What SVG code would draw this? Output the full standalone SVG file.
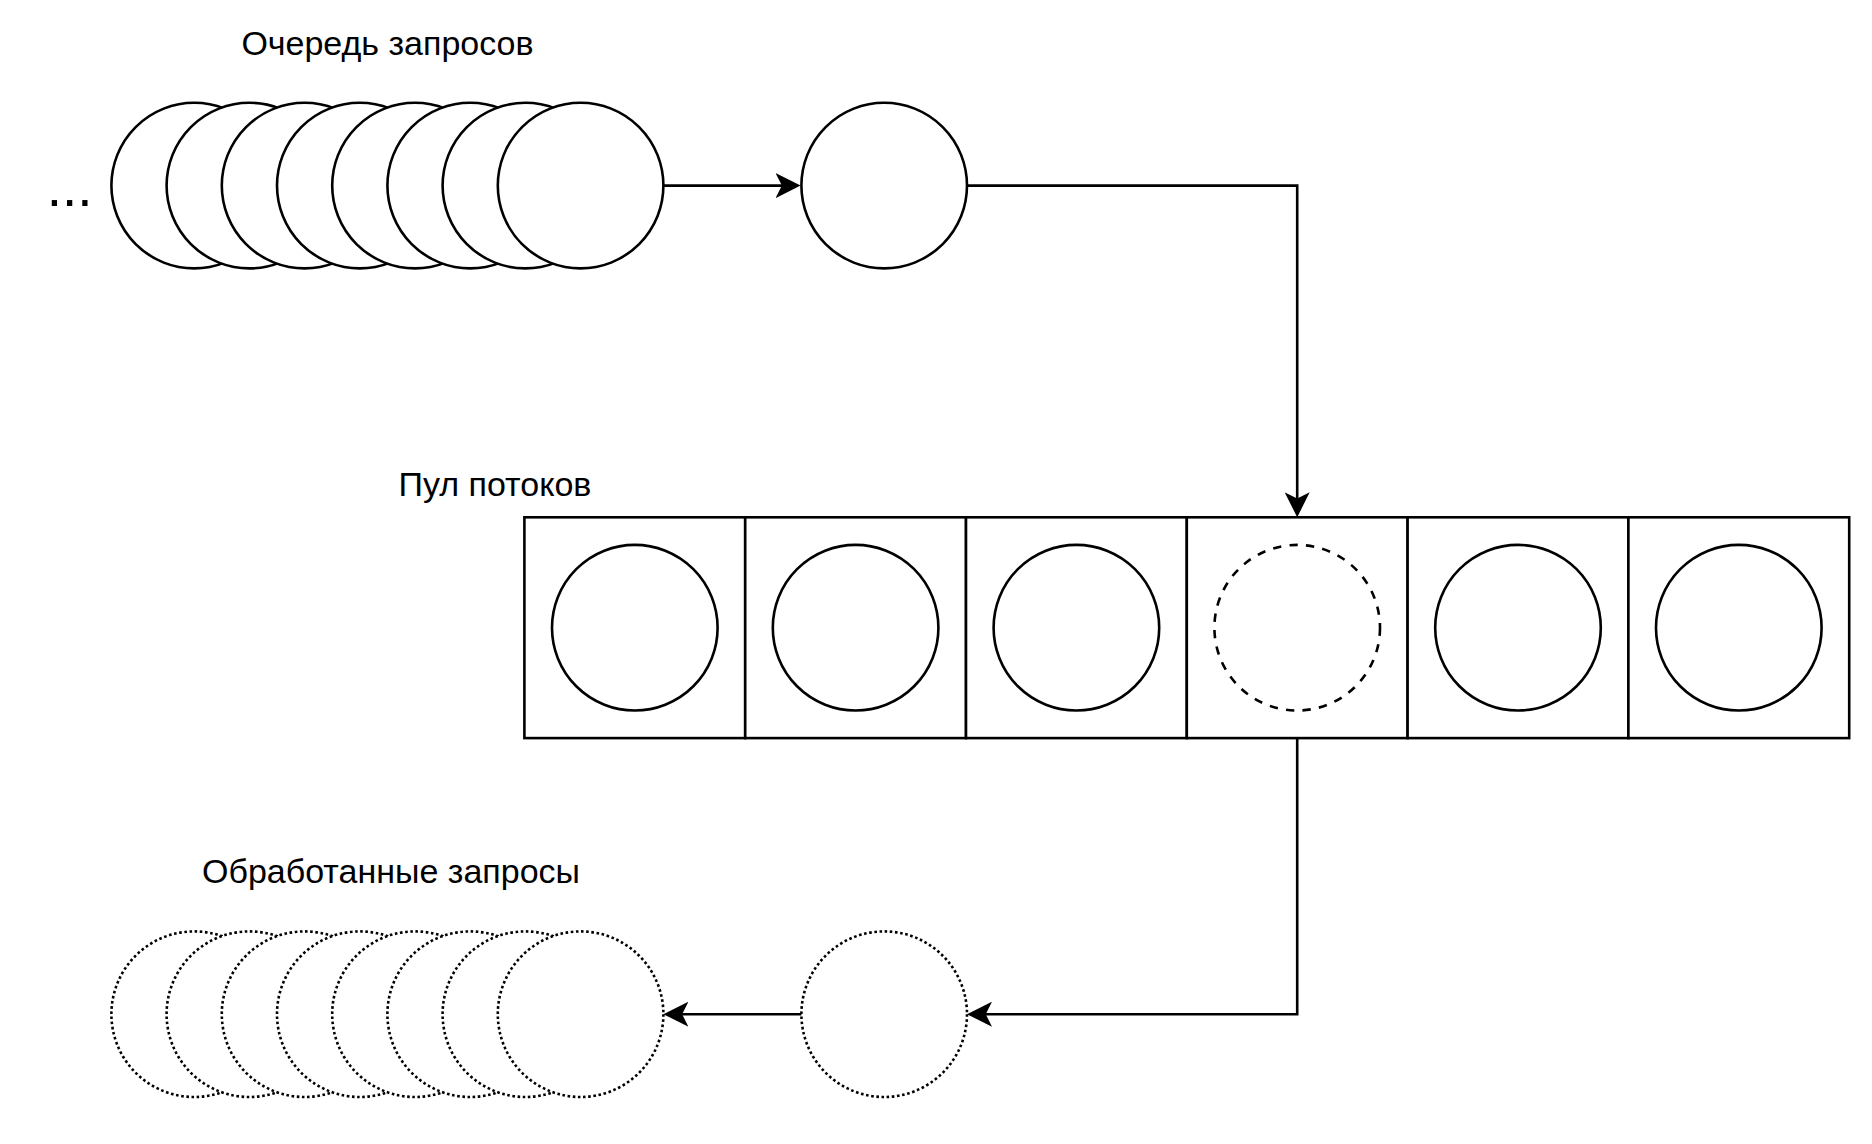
<svg xmlns="http://www.w3.org/2000/svg" width="1872" height="1144" viewBox="0 0 1872 1144">
<style>
.c{fill:#fff;stroke:#000;stroke-width:2.6}
.dash{stroke-dasharray:8.3 8.3}
.dot{stroke-dasharray:2.6 2.6}
.cell{fill:#fff;stroke:#000;stroke-width:2.6}
.lbl{font-family:"Liberation Sans",Arial,Helvetica,sans-serif;font-size:34px;fill:#000;text-anchor:middle}
.edge{fill:none;stroke:#000;stroke-width:2.6;marker-end:url(#arr)}
</style>
<defs>
<marker id="arr" markerUnits="userSpaceOnUse" markerWidth="25" markerHeight="25" viewBox="0 0 25 25" refX="19" refY="12.5" orient="auto">
<path d="M0,0 L25,12.5 L0,25 L6.25,12.5 Z" fill="#000"/>
</marker>
</defs>
<rect width="1872" height="1144" fill="#fff"/>

<g id="label-queue"><text class="lbl" x="387.5" y="55">Очередь запросов</text></g>
<g id="label-pool"><text class="lbl" x="495" y="496">Пул потоков</text></g>
<g id="label-done"><text class="lbl" x="391" y="883">Обработанные запросы</text></g>
<g id="ellipsis"><text x="69.7" y="205.7" style="font-family:'Liberation Sans',Arial,sans-serif;font-size:55px;text-anchor:middle">...</text></g>

<g id="queue">
<circle class="c" cx="194.2" cy="185.6" r="82.8"/>
<circle class="c" cx="249.4" cy="185.6" r="82.8"/>
<circle class="c" cx="304.6" cy="185.6" r="82.8"/>
<circle class="c" cx="359.8" cy="185.6" r="82.8"/>
<circle class="c" cx="415" cy="185.6" r="82.8"/>
<circle class="c" cx="470.2" cy="185.6" r="82.8"/>
<circle class="c" cx="525.4" cy="185.6" r="82.8"/>
<circle class="c" cx="580.6" cy="185.6" r="82.8"/>
</g>
<g id="current-request"><circle class="c" cx="884.2" cy="185.6" r="82.8"/></g>

<g id="pool">
<rect class="cell" x="524.4" y="517.3" width="220.8" height="220.8"/>
<rect class="cell" x="745.2" y="517.3" width="220.8" height="220.8"/>
<rect class="cell" x="966" y="517.3" width="220.8" height="220.8"/>
<rect class="cell" x="1186.8" y="517.3" width="220.8" height="220.8"/>
<rect class="cell" x="1407.6" y="517.3" width="220.8" height="220.8"/>
<rect class="cell" x="1628.4" y="517.3" width="220.8" height="220.8"/>
<circle class="c" cx="634.8" cy="627.7" r="82.8"/>
<circle class="c" cx="855.6" cy="627.7" r="82.8"/>
<circle class="c" cx="1076.4" cy="627.7" r="82.8"/>
<circle class="c dash" cx="1297.2" cy="627.7" r="82.8"/>
<circle class="c" cx="1518" cy="627.7" r="82.8"/>
<circle class="c" cx="1738.8" cy="627.7" r="82.8"/>
</g>

<g id="done-request"><circle class="c dot" cx="884.2" cy="1014.2" r="82.8"/></g>
<g id="done">
<circle class="c dot" cx="194.2" cy="1014.2" r="82.8"/>
<circle class="c dot" cx="249.4" cy="1014.2" r="82.8"/>
<circle class="c dot" cx="304.6" cy="1014.2" r="82.8"/>
<circle class="c dot" cx="359.8" cy="1014.2" r="82.8"/>
<circle class="c dot" cx="415" cy="1014.2" r="82.8"/>
<circle class="c dot" cx="470.2" cy="1014.2" r="82.8"/>
<circle class="c dot" cx="525.4" cy="1014.2" r="82.8"/>
<circle class="c dot" cx="580.6" cy="1014.2" r="82.8"/>
</g>

<g id="connectors">
<path class="edge" d="M663.4,185.6 H794.6"/>
<path class="edge" d="M967,185.6 H1297.2 V511.3"/>
<path class="edge" d="M1297.2,738.1 V1014.2 H973"/>
<path class="edge" d="M801.4,1014.2 H669.4"/>
</g>
</svg>
